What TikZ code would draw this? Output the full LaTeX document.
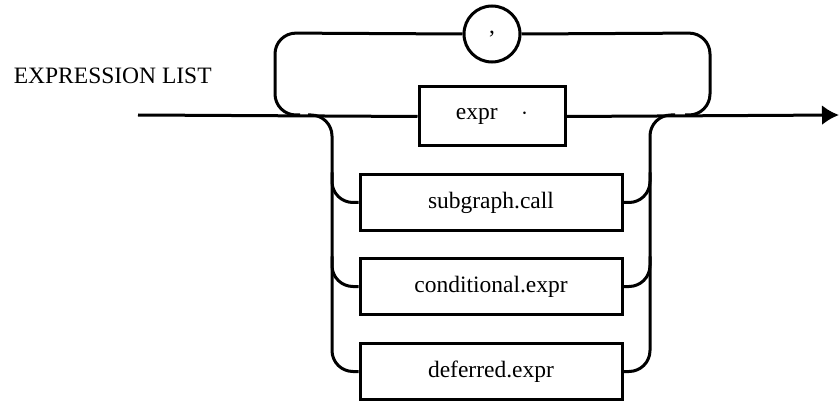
\documentclass[tikz,border=0pt]{standalone}
\usepackage{fontspec}
\setmainfont{Liberation Serif}
\usetikzlibrary{arrows.meta,calc}
\begin{document}
\begin{tikzpicture}[x=1pt,y=-1pt,
  line width=3pt,
  txt/.style={font=\fontsize{23.5}{28}\selectfont},
  rulebox/.style={draw, rectangle, txt, minimum width=262pt, minimum height=56pt, inner sep=0pt},
  termcircle/.style={draw, circle, txt, minimum size=56pt, inner sep=0pt},
  rail/.style={rounded corners=21pt},
  rail arrow/.style={-{Latex[length=17pt,width=20pt]}}]
\useasboundingbox (0,0) rectangle (839,401);

% heading
\node[txt, anchor=west] (title) at (9,76) {EXPRESSION LIST};

% entry and exit of the main rail
\coordinate (start) at (138,115);
\coordinate (finish) at (839,115);

% boxes and the separator
\node[rulebox, minimum width=146pt, minimum height=59pt] (expr) at (492,116.5) {expr\quad$\cdot$};
\node[termcircle] (comma) at (492,34) {\raisebox{.12em}{,}};
\node[rulebox] (sub) at (491,202.5) {subgraph.call};
\node[rulebox] (cond) at (491,286.5) {conditional.expr};
\node[rulebox] (defer) at (491,371.5) {deferred.expr};

% rail joints and vertical tracks
\coordinate (loopL) at (300,115);
\coordinate (loopR) at (685,115);
\coordinate (brL) at (308,115);
\coordinate (brR) at (675,115);
\coordinate (lv) at (332,115);
\coordinate (rv) at (650,115);

% main rail
\draw (start) -- (expr.west);
\draw[rail arrow] (expr.east) -- (finish);

% repetition loop through the separator
\draw[rail] (loopL) -| (275,33) -- (comma.west);
\draw[rail] (comma.east) -- (710,33) |- (loopR);

% alternatives
\draw[rail] (brL) -- (lv) |- (defer.west);
\draw[rail] (defer.east) -| (rv) -- (brR);
\draw[rail] ($(sub.west -| lv)+(0,-30)$) |- (sub.west);
\draw[rail] ($(cond.west -| lv)+(0,-30)$) |- (cond.west);
\draw[rail] ($(sub.east -| rv)+(0,-30)$) |- (sub.east);
\draw[rail] ($(cond.east -| rv)+(0,-30)$) |- (cond.east);
\end{tikzpicture}
\end{document}
